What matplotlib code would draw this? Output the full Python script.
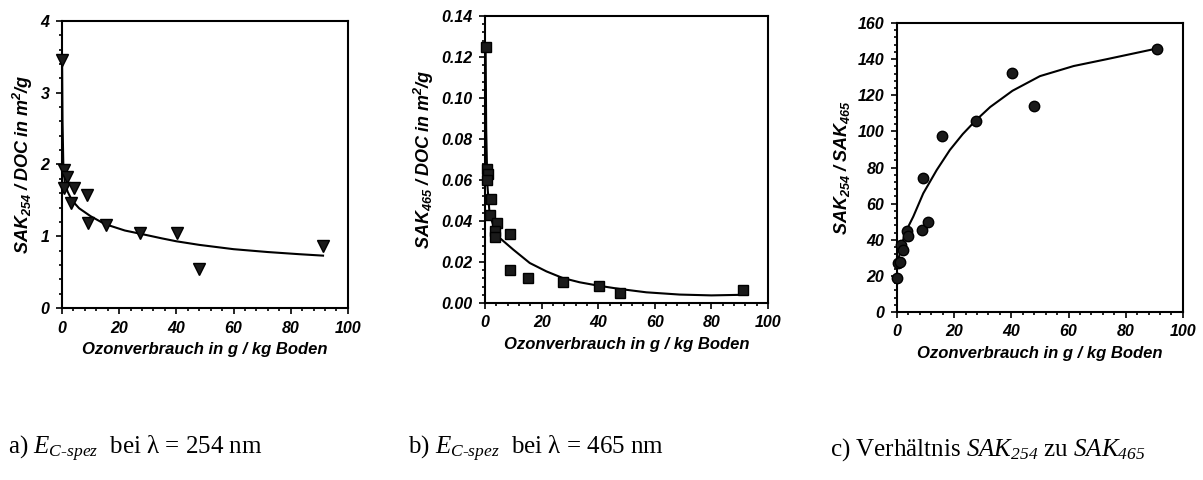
import numpy as np
import matplotlib
matplotlib.use("Agg")
from matplotlib import pyplot as plt
from matplotlib.ticker import MultipleLocator, FormatStrFormatter

plt.rcParams['font.family'] = 'Liberation Sans'
plt.rcParams['font.weight'] = 'bold'
plt.rcParams['font.style'] = 'italic'
plt.rcParams['mathtext.fontset'] = 'custom'
# the math in the captions is all italic serif, the math in the axis labels bold italic sans
plt.rcParams['mathtext.rm'] = 'Liberation Serif:style=italic:weight=normal'
plt.rcParams['mathtext.it'] = 'Liberation Serif:style=italic:weight=normal'
plt.rcParams['mathtext.bf'] = 'Liberation Sans:style=italic:weight=bold'

# a) SAK254 / DOC
xa = [0.0, 0.6, 1.7, 0.6, 4.3, 3.3, 8.7, 9.0, 15.5, 27.4, 40.2, 47.8, 91.3]
ya = [3.45, 1.92, 1.83, 1.67, 1.67, 1.47, 1.57, 1.19, 1.16, 1.05, 1.05, 0.55, 0.86]
fit_xa = [0.05, 0.2, 0.5, 1.0, 2.0, 3.5, 6, 10, 15, 22, 28, 35, 40, 48, 60, 72, 83, 91.3]
fit_ya = [3.45, 2.6, 1.95, 1.75, 1.62, 1.50, 1.39, 1.28, 1.17, 1.08, 1.03, 0.97,
          0.93, 0.88, 0.82, 0.78, 0.75, 0.73]

# b) SAK465 / DOC
xb = [0.2, 0.7, 0.9, 0.7, 2.0, 1.6, 4.2, 3.4, 3.4, 8.7, 8.7, 15.3, 27.4, 40.2, 47.8, 91.3]
yb = [0.125, 0.0655, 0.063, 0.060, 0.0507, 0.043, 0.039, 0.035, 0.032, 0.0338,
      0.0159, 0.0122, 0.0101, 0.0081, 0.0049, 0.0062]
fit_xb = [0.2, 0.4, 0.8, 1.6, 3.4, 5.2, 10, 15.8, 21.7, 27.4, 33.4, 40.2, 47.8, 57, 68.8, 80, 91.3]
fit_yb = [0.125, 0.085, 0.058, 0.0435, 0.0357, 0.0317, 0.026, 0.0195, 0.0154, 0.0122,
          0.0101, 0.0084, 0.0068, 0.0052, 0.0041, 0.0037, 0.0040]

# c) SAK254 / SAK465
xc = [0.0, 0.2, 0.9, 1.5, 2.0, 3.5, 4.0, 8.7, 9.0, 10.7, 15.7, 27.5, 40.4, 48.0, 90.9]
yc = [19, 27, 27.5, 37, 34.4, 45, 42, 45.4, 74, 50, 97.7, 106, 132.6, 113.9, 145.9]
fit_xc = [0.2, 1.5, 2.8, 5.7, 9.2, 13.9, 18.5, 23, 27.5, 32.6, 40.4, 50, 61.8, 73.4, 90.9]
fit_yc = [27, 36, 43.6, 52.8, 65.7, 78.6, 89.7, 98.5, 106, 113.5, 122.5, 130.6, 136.2, 140, 145.9]

xlabel = "Ozonverbrauch in g / kg Boden"

fig = plt.figure(figsize=(12.03, 4.8), dpi=100)

panels = [
    ([0.0515, 0.3583, 0.2377, 0.598], xa, ya, fit_xa, fit_ya, 'v', 8.5,
     r"$\mathbf{SAK_{254}\ /\ DOC\ in\ m^{2}/g}$", (0, 4), 1, 0.2, '%d'),
    ([0.4032, 0.3688, 0.2352, 0.598], xb, yb, fit_xb, fit_yb, 's', 7,
     r"$\mathbf{SAK_{465}\ /\ DOC\ in\ m^{2}/g}$", (0, 0.14), 0.02, 0.004, '%.2f'),
    ([0.7456, 0.35, 0.2377, 0.602], xc, yc, fit_xc, fit_yc, 'o', 7.5,
     r"$\mathbf{SAK_{254}\ /\ SAK_{465}}$", (0, 160), 20, 4, '%d'),
]

for rect, x, y, fx, fy, marker, ms, ylab, ylim, major, minor, fmt in panels:
    ax = fig.add_axes(rect)
    ax.plot(fx, fy, color='black', lw=1.5, zorder=2)
    ax.plot(x, y, linestyle='none', marker=marker, ms=ms, color='#1a1a1a',
            markeredgecolor='black', zorder=3, clip_on=False)
    ax.set_xlim(0, 100)
    ax.set_ylim(*ylim)
    ax.xaxis.set_major_locator(MultipleLocator(20))
    ax.xaxis.set_minor_locator(MultipleLocator(4))
    ax.yaxis.set_major_locator(MultipleLocator(major))
    ax.yaxis.set_minor_locator(MultipleLocator(minor))
    ax.yaxis.set_major_formatter(FormatStrFormatter(fmt))
    ax.tick_params(which='both', direction='out', width=1.2, labelsize=11.5)
    ax.tick_params(which='major', length=4, pad=5)
    ax.tick_params(which='minor', length=2.5)
    for s in ax.spines.values():
        s.set_linewidth(1.5)
    ax.set_xlabel(xlabel, fontsize=12, fontweight='bold', fontstyle='italic', labelpad=5)
    ax.set_ylabel(ylab, fontsize=13, labelpad=4)

cap = dict(fontsize=18, family='Liberation Serif', weight='normal', style='normal',
           va='center', ha='left')
fig.text(0.007, 0.064, r"a) $E_{C{\text{-}}spez}$  bei λ = 254 nm", **cap)
fig.text(0.339, 0.064, r"b) $E_{C{\text{-}}spez}$  bei λ = 465 nm", **cap)
fig.text(0.690, 0.064, r"c) Verhältnis $SAK_{254}$ zu $SAK_{465}$", **cap)

fig.savefig("out.png", dpi=100)
